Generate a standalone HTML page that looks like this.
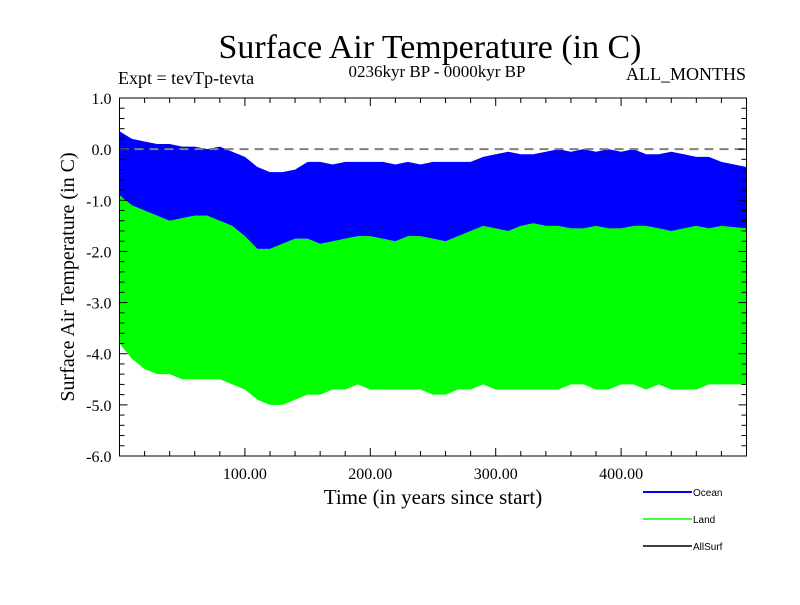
<!DOCTYPE html>
<html><head><meta charset="utf-8"><style>
body{margin:0;background:#fff}
svg text{font-family:"Liberation Serif",serif;fill:#000}
</style></head><body>
<svg id="chart" width="800" height="600" viewBox="0 0 800 600" xmlns="http://www.w3.org/2000/svg">
<rect width="800" height="600" fill="#fff"/>
<text x="430" y="58" font-size="34" text-anchor="middle" textLength="423" lengthAdjust="spacingAndGlyphs">Surface Air Temperature (in C)</text>
<text x="118" y="84" font-size="18">Expt = tevTp-tevta</text>
<text x="437" y="77" font-size="17" text-anchor="middle">0236kyr BP - 0000kyr BP</text>
<text x="746" y="80" font-size="18" text-anchor="end">ALL_MONTHS</text>
<text transform="translate(74,277) rotate(-90)" font-size="20" text-anchor="middle">Surface Air Temperature (in C)</text>
<text x="433" y="504" font-size="21" text-anchor="middle">Time (in years since start)</text>
<g id="plot"></g>
<g id="axes"></g>
<g>
<g><line x1="643" y1="492" x2="692" y2="492" stroke="#0000ff" stroke-width="2"/><text x="693" y="496" font-size="10" style="font-family:'Liberation Sans',sans-serif">Ocean</text></g>
<g><line x1="643" y1="519" x2="692" y2="519" stroke="#00ff00" stroke-width="1.5"/><text x="693" y="523" font-size="10" style="font-family:'Liberation Sans',sans-serif">Land</text></g>
<g><line x1="643" y1="546" x2="692" y2="546" stroke="#000" stroke-width="1.5"/><text x="693" y="550" font-size="10" style="font-family:'Liberation Sans',sans-serif">AllSurf</text></g>
</g>
</svg>
<script>
// decade-binned envelopes (years 0..490 step 10), values in °C
const years = [0,10,20,30,40,50,60,70,80,90,100,110,120,130,140,150,160,170,180,190,200,210,220,230,240,250,260,270,280,290,300,310,320,330,340,350,360,370,380,390,400,410,420,430,440,450,460,470,480,490];
const oceanHigh = [0.35,0.2,0.15,0.1,0.1,0.05,0.05,0.0,0.05,-0.05,-0.15,-0.35,-0.45,-0.45,-0.4,-0.25,-0.25,-0.3,-0.25,-0.25,-0.25,-0.25,-0.3,-0.25,-0.3,-0.25,-0.25,-0.25,-0.25,-0.15,-0.1,-0.05,-0.1,-0.1,-0.05,0.0,-0.05,0.0,-0.05,0.0,-0.05,0.0,-0.1,-0.1,-0.05,-0.1,-0.15,-0.15,-0.25,-0.35];
const oceanLow = [-0.9,-1.1,-1.2,-1.3,-1.4,-1.35,-1.3,-1.3,-1.4,-1.5,-1.7,-1.95,-1.95,-1.85,-1.75,-1.75,-1.85,-1.8,-1.75,-1.7,-1.7,-1.75,-1.8,-1.7,-1.7,-1.75,-1.8,-1.7,-1.6,-1.5,-1.55,-1.6,-1.5,-1.45,-1.5,-1.5,-1.55,-1.55,-1.5,-1.55,-1.55,-1.5,-1.5,-1.55,-1.6,-1.55,-1.5,-1.55,-1.5,-1.55];
const landLow = [-3.8,-4.1,-4.3,-4.4,-4.4,-4.5,-4.5,-4.5,-4.5,-4.6,-4.7,-4.9,-5.0,-5.0,-4.9,-4.8,-4.8,-4.7,-4.7,-4.6,-4.7,-4.7,-4.7,-4.7,-4.7,-4.8,-4.8,-4.7,-4.7,-4.6,-4.7,-4.7,-4.7,-4.7,-4.7,-4.7,-4.6,-4.6,-4.7,-4.7,-4.6,-4.6,-4.7,-4.6,-4.7,-4.7,-4.7,-4.6,-4.6,-4.6];
const yTicks = [1.0,0.0,-1.0,-2.0,-3.0,-4.0,-5.0,-6.0];
const xTicks = [100,200,300,400];

const X0=119.5, X1=746.5, Y0=98, Y1=456, XMIN=0, XMAX=500, YMIN=-6, YMAX=1;
const sx=v=>X0+(v-XMIN)/(XMAX-XMIN)*(X1-X0);
const sy=v=>Y0+(YMAX-v)/(YMAX-YMIN)*(Y1-Y0);
const NS="http://www.w3.org/2000/svg";
const plot=document.getElementById('plot'), axes=document.getElementById('axes');
function mk(tag,attrs,parent){const e=document.createElementNS(NS,tag);for(const k in attrs)e.setAttribute(k,attrs[k]);parent.appendChild(e);return e;}
function bandPath(top,bot){
  const xs=years.map((y,i)=>sx(i===years.length-1?XMAX:y));
  xs[0]=X0;
  let d='M'+xs.map((x,i)=>x+','+sy(top[i])).join(' L');
  for(let i=years.length-1;i>=0;i--)d+=' L'+xs[i]+','+sy(bot[i]);
  return d+'Z';
}
const land=mk('path',{d:bandPath(oceanLow,landLow),fill:'#00ff00'},plot);


const ocean=mk('path',{d:bandPath(oceanHigh,oceanLow),fill:'#0000ff'},plot);


const zl=mk('line',{x1:X0,x2:X1,y1:sy(0),y2:sy(0),stroke:'#808080','stroke-width':2,'stroke-dasharray':'9,6'},plot);


const fr=mk('rect',{x:X0,y:Y0,width:X1-X0,height:Y1-Y0,fill:'none',stroke:'#000','stroke-width':1},axes);


for(let v=0;v<=XMAX;v+=20){const x=sx(v);const L=(v%100===0)?8:5;
 mk('line',{x1:x,x2:x,y1:Y1,y2:Y1-L,stroke:'#000'},axes);mk('line',{x1:x,x2:x,y1:Y0,y2:Y0+L,stroke:'#000'},axes);}
for(let k=0;k<=35;k++){const v=YMIN+k*0.2;const y=sy(v);const L=(k%5===0)?8:5;
 mk('line',{x1:X0,x2:X0+L,y1:y,y2:y,stroke:'#000'},axes);mk('line',{x1:X1,x2:X1-L,y1:y,y2:y,stroke:'#000'},axes);}
yTicks.forEach(v=>{const t=mk('text',{x:X0-8,y:sy(v)+6,'font-size':16,'text-anchor':'end'},axes);t.textContent=v.toFixed(1);
 
 });
xTicks.forEach(v=>{const t=mk('text',{x:sx(v),y:Y1+23,'font-size':16,'text-anchor':'middle'},axes);t.textContent=v.toFixed(2);
 
 });
</script>
</body></html>
